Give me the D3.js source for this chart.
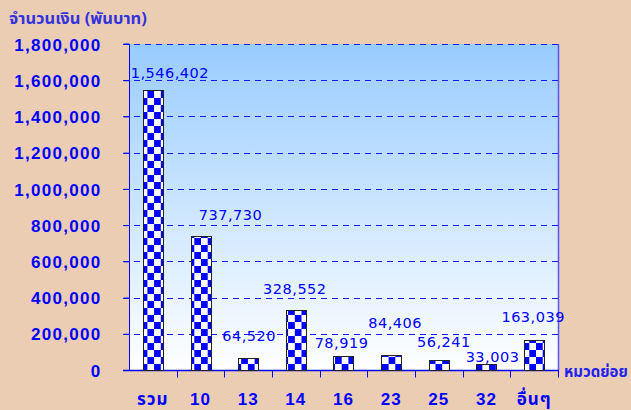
<!DOCTYPE html>
<html><head><meta charset="utf-8">
<script src="https://cdn.jsdelivr.net/npm/d3@7"></script>
<style>
html,body{margin:0;padding:0;background:#EBCDB4;}
svg{display:block;}
</style></head>
<body>
<svg id="chart" width="631" height="410"></svg>
<script>
const categories = ["รวม","10","13","14","16","23","25","32","อื่นๆ"];
const values = [1546402,737730,64520,328552,78919,84406,56241,33003,163039];
const yTicks = [0,200000,400000,600000,800000,1000000,1200000,1400000,1600000,1800000];
const yTitle = "จำนวนเงิน (พันบาท)";
const xTitle = "หมวดย่อย";
// label nudges (layout only): [dx, dy above bar top]
const labelNudge = [[17,12],[30,16],[1,17],[-1,16],[-2,8],[4,27],[5,13],[6,2],[-1,18]];

const svg = d3.select("#chart");
const L = 129, R = 558, T = 44, B = 370;
const x = d3.scaleBand().domain(categories).range([L, R]).padding(0);
const y = d3.scaleLinear().domain([0, 1800000]).range([B, T]);
const blue = "#0000FF";

const defs = svg.append("defs");
const grad = defs.append("linearGradient").attr("id","bg").attr("x1",0).attr("y1",0).attr("x2",0).attr("y2",1);
grad.append("stop").attr("offset","0%").attr("stop-color","#99CCFF");
grad.append("stop").attr("offset","100%").attr("stop-color","#FFFFFF");
const pat = defs.append("pattern").attr("id","chk").attr("patternUnits","userSpaceOnUse")
  .attr("width",13.4).attr("height",14).attr("x",0).attr("y",0);
pat.append("rect").attr("width",13.4).attr("height",14).attr("fill","#FFFFFF");
pat.append("rect").attr("x",6.7).attr("y",0).attr("width",6.7).attr("height",7).attr("fill",blue);
pat.append("rect").attr("x",0).attr("y",7).attr("width",6.7).attr("height",7).attr("fill",blue);

svg.append("rect").attr("x",L).attr("y",T).attr("width",R-L).attr("height",B-T).attr("fill","url(#bg)");
// right border
svg.append("line").attr("x1",R+0.5).attr("x2",R+0.5).attr("y1",T).attr("y2",B).attr("stroke","#5555FF").attr("stroke-width",1.5);

// gridlines
svg.append("g").selectAll("line").data(yTicks.filter(d=>d>0)).join("line")
  .attr("x1",L-6).attr("x2",R).attr("y1",d=>Math.round(y(d))+0.5).attr("y2",d=>Math.round(y(d))+0.5)
  .attr("stroke","#1A1AFF").attr("stroke-dasharray","6,5").attr("stroke-width",1.2);

// y axis
const yAxis = d3.axisLeft(y).tickValues(yTicks).tickSize(6).tickPadding(22).tickFormat(d3.format(","));
const gy = svg.append("g").attr("transform",`translate(${L+0.5},0)`).call(yAxis);
gy.select(".domain").attr("stroke",blue).attr("d",`M-6,${T}H0V${B}`);
gy.selectAll(".tick line").attr("stroke",blue);
gy.selectAll(".tick text").attr("fill",blue).attr("font-family","'Liberation Sans', Arial, sans-serif")
  .attr("font-weight","bold").attr("font-size","17px").attr("letter-spacing","1.3px").attr("dy","0.36em");

// x axis
const gx = svg.append("g").attr("transform",`translate(0,${B+0.5})`);
gx.append("line").attr("x1",L-6).attr("x2",R+1).attr("y1",0).attr("y2",0).attr("stroke",blue).attr("stroke-width",1.5);
const bounds = categories.map(c=>x(c)).concat([R]).slice(1);
gx.selectAll(".tk").data(bounds).join("line").attr("class","tk")
  .attr("x1",d=>Math.round(d)+0.5).attr("x2",d=>Math.round(d)+0.5).attr("y1",0).attr("y2",7).attr("stroke",blue);
gx.selectAll(".lbl").data(categories).join("text").attr("class","lbl")
  .attr("x",d=>x(d)+x.bandwidth()/2).attr("y",34).attr("text-anchor","middle")
  .attr("fill",blue).attr("font-family","'Liberation Sans', Tahoma, 'Noto Sans Thai', sans-serif")
  .attr("font-weight","bold").attr("font-size","17px").attr("letter-spacing","1px").text(d=>d);

// bars
const bw = 20;
svg.append("g").selectAll("rect").data(values).join("rect")
  .attr("x",(d,i)=>Math.round(x(categories[i])+x.bandwidth()/2-bw/2)+0.5)
  .attr("y",d=>Math.round(y(d))+0.5)
  .attr("width",bw).attr("height",d=>B-Math.round(y(d)))
  .attr("fill","url(#chk)").attr("stroke","#222").attr("stroke-width",1);

// value labels
svg.append("g").selectAll("text").data(values).join("text")
  .attr("x",(d,i)=>x(categories[i])+x.bandwidth()/2+labelNudge[i][0])
  .attr("y",(d,i)=>y(d)-labelNudge[i][1])
  .attr("text-anchor","middle").attr("fill",blue)
  .attr("font-family","'DejaVu Sans', Verdana, sans-serif").attr("font-size","14.5px").attr("letter-spacing","0.5px")
  .text(d=>d3.format(",")(d));

// titles
svg.append("text").attr("x",9).attr("y",24).attr("fill","#3333DD")
  .attr("font-family","Tahoma, 'Noto Sans Thai', 'Noto Sans', sans-serif").attr("font-size","16.5px").attr("font-weight","bold").text(yTitle);
svg.append("text").attr("x",564).attr("y",377).attr("fill","#2222EE")
  .attr("font-family","Tahoma, 'Noto Sans Thai', 'Noto Sans', sans-serif").attr("font-size","15px").attr("font-weight","bold").text(xTitle);
</script>
</body></html>
